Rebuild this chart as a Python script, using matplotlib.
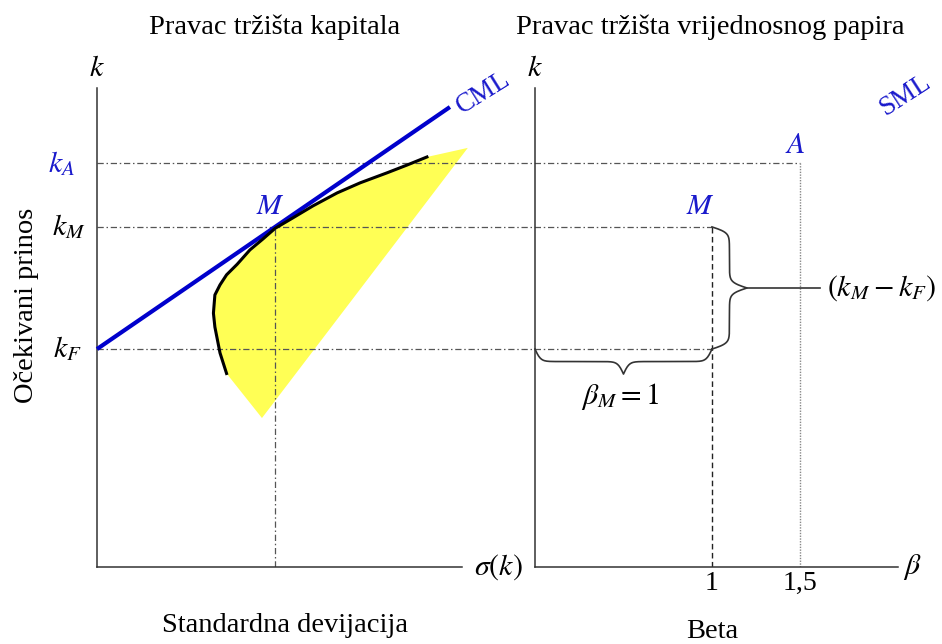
import numpy as np
import matplotlib
matplotlib.use('Agg')
import matplotlib.pyplot as plt

plt.rcParams['font.family'] = ['Liberation Serif', 'DejaVu Serif']
plt.rcParams['mathtext.fontset'] = 'stix'

# razine prinosa (k) i tocke na grafu
k_f, k_m, k_a = 4.55, 7.10, 8.43
sigma_m = 4.88
cml_end_sigma = 9.67

# efikasna granica (crna krivulja)
frontier_sigma = [3.55, 3.37, 3.23, 3.19, 3.23, 3.37, 3.55, 3.84, 4.19, 4.55, 4.88,
                  5.37, 5.92, 6.58, 7.21, 7.95, 8.49, 9.04]
frontier_k = [4.04, 4.47, 5.01, 5.30, 5.68, 5.89, 6.10, 6.32, 6.62, 6.85, 7.07,
              7.29, 7.54, 7.81, 8.02, 8.23, 8.39, 8.56]

# ostali vrhovi zutog podrucja
region_sigma = [10.16, 4.52]
region_k = [8.75, 3.11]

# beta strana
beta_m, beta_a = 1.0, 1.5
beta_ticks = [1.0, 1.5]
beta_tick_labels = ['1', '1,5']

blue = '#1a1acc'
gray = '#555555'
axis_col = '#333333'

fig = plt.figure(figsize=(9.42, 6.44), dpi=100)
ax1 = fig.add_axes([97 / 942, 77 / 644, 423 / 942, 479 / 644])
ax2 = fig.add_axes([535 / 942, 77 / 644, 407 / 942, 479 / 644])

ax1.set_xlim(0, 11.59)
ax1.set_ylim(0, 10)
ax2.set_xlim(0, 2.30)
ax2.set_ylim(0, 10)

for ax, xend in [(ax1, 10), (ax2, 2.05)]:
    ax.set_facecolor('none')
    ax.spines['top'].set_visible(False)
    ax.spines['right'].set_visible(False)
    for s in ['left', 'bottom']:
        ax.spines[s].set_color(axis_col)
        ax.spines[s].set_linewidth(1.1)
    ax.spines['bottom'].set_bounds(0, xend)
    ax.set_xticks([])
    ax.set_yticks([])

dashdot = (0, (5, 2.2, 1.2, 2.2))
fs = 21.5      # matematicke oznake
tfs = 20.5     # obican tekst

# ---- lijevi graf: pravac trzista kapitala
poly_s = frontier_sigma + region_sigma
poly_k = frontier_k + region_k
ax1.fill(poly_s, poly_k, color='#ffff55', lw=0, zorder=1, clip_on=False)


def x_on_ax1(beta):
    disp = ax2.transData.transform((beta, 0))
    return ax1.transData.inverted().transform(disp)[0]


# horizontalne crte preko oba grafa
ax1.plot([0, x_on_ax1(beta_a)], [k_a, k_a], color=gray, lw=0.9, ls=dashdot, clip_on=False, zorder=2)
ax1.plot([0, x_on_ax1(beta_m)], [k_m, k_m], color=gray, lw=0.9, ls=dashdot, clip_on=False, zorder=2)
ax1.plot([0, x_on_ax1(beta_m)], [k_f, k_f], color=gray, lw=0.9, ls=dashdot, clip_on=False, zorder=2)
ax1.plot([sigma_m, sigma_m], [0, k_m], color=gray, lw=0.9, ls=dashdot, zorder=2)

slope = (k_m - k_f) / sigma_m
ax1.plot([0, cml_end_sigma], [k_f, k_f + slope * cml_end_sigma], color='#0000cc', lw=3, zorder=3,
         solid_capstyle='butt', clip_on=False)
ax1.plot(frontier_sigma, frontier_k, color='black', lw=2.2, zorder=4, solid_joinstyle='round')

ax1.annotate('$k_A$', xy=(0, k_a), xytext=(-35, 0), textcoords='offset pixels', ha='center', va='center',
             fontsize=fs, color=blue)
ax1.annotate('$k_M$', xy=(0, k_m), xytext=(-28, 0), textcoords='offset pixels', ha='center', va='center',
             fontsize=fs)
ax1.annotate('$k_F$', xy=(0, k_f), xytext=(-30, 0), textcoords='offset pixels', ha='center', va='center',
             fontsize=fs)
ax1.annotate('$M$', xy=(sigma_m, k_m), xytext=(-5, 20), textcoords='offset pixels', ha='center', va='center',
             fontsize=fs, color=blue)
ax1.annotate('CML', xy=(cml_end_sigma, k_f + slope * cml_end_sigma), xytext=(33, 14), textcoords='offset pixels',
             ha='center', va='center', fontsize=19.5, color=blue, rotation=32)
ax1.annotate('$k$', xy=(0, 10), xytext=(0, 19), textcoords='offset pixels', ha='center', va='center', fontsize=fs)
ax1.annotate(r'$\sigma(k)$', xy=(10, 0), xytext=(36, 0), textcoords='offset pixels', ha='center', va='center',
             fontsize=fs, annotation_clip=False)
fig.text(285 / 942, 1 - 625 / 644, 'Standardna devijacija', ha='center', va='center', fontsize=tfs)
fig.text(27 / 942, 1 - 305 / 644, 'Očekivani prinos', ha='center', va='center', fontsize=tfs, rotation=90)
fig.text(275 / 942, 1 - 27 / 644, 'Pravac tržišta kapitala', ha='center', va='center', fontsize=tfs)

# ---- desni graf: pravac trzista vrijednosnog papira
ax2.plot([beta_m, beta_m], [0, k_m], color='#222222', lw=1, ls=(0, (4, 2.5)), zorder=2)
ax2.plot([beta_a, beta_a], [0, k_a], color='#888888', lw=1, ls=(0, (1, 1)), zorder=2)


def draw_brace(ax, p0, p1, width, side=1, b=0.35):
    d0 = ax.transData.transform(p0)
    d1 = ax.transData.transform(p1)
    vec = d1 - d0
    length = np.hypot(*vec)
    u = vec / length
    n = np.array([-u[1], u[0]]) * side
    s = np.linspace(0, length / 2, 120)
    half = 1 / (1 + np.exp(-b * (s - s[0]))) + 1 / (1 + np.exp(-b * (s - s[-1])))
    offs = np.concatenate([half, half[-2::-1]]) - 0.5
    pos = np.concatenate([s, length - s[-2::-1]])
    pts = d0 + np.outer(pos, u) + np.outer(offs * width, n)
    data = ax.transData.inverted().transform(pts)
    ax.plot(data[:, 0], data[:, 1], color=axis_col, lw=1.2, clip_on=False, zorder=3)
    tip = d0 + u * length / 2 + n * width
    return ax.transData.inverted().transform(tip)


tip_v = draw_brace(ax2, (beta_m, k_m), (beta_m, k_f), 35, side=1)
ax2.plot([tip_v[0], 1.61], [tip_v[1], tip_v[1]], color=axis_col, lw=1.2, zorder=3)
ax2.annotate('$(k_M - k_F)$', xy=(1.61, tip_v[1]), xytext=(7, 0), textcoords='offset pixels',
             ha='left', va='center', fontsize=fs)

tip_h = draw_brace(ax2, (0, k_f), (beta_m, k_f), 25, side=-1)
ax2.annotate(r'$\beta_M = 1$', xy=tip_h, xytext=(-3, -22), textcoords='offset pixels',
             ha='center', va='center', fontsize=fs)

for b_val, lab in zip(beta_ticks, beta_tick_labels):
    ax2.annotate(lab, xy=(b_val, 0), xytext=(0, -16), textcoords='offset pixels', ha='center', va='center',
                 fontsize=20)

ax2.annotate('$M$', xy=(beta_m, k_m), xytext=(-12, 20), textcoords='offset pixels', ha='center', va='center',
             fontsize=fs, color=blue)
ax2.annotate('$A$', xy=(beta_a, k_a), xytext=(-5, 17), textcoords='offset pixels', ha='center', va='center',
             fontsize=fs, color=blue)
ax2.annotate('SML', xy=(beta_a, k_a), xytext=(105, 68), textcoords='offset pixels', ha='center', va='center',
             fontsize=19.5, color=blue, rotation=33, annotation_clip=False)
ax2.annotate('$k$', xy=(0, 10), xytext=(0, 19), textcoords='offset pixels', ha='center', va='center', fontsize=fs)
ax2.annotate(r'$\beta$', xy=(2.05, 0), xytext=(15, 0), textcoords='offset pixels', ha='center', va='center',
             fontsize=fs)
fig.text(712 / 942, 1 - 631 / 644, 'Beta', ha='center', va='center', fontsize=tfs)
fig.text(710 / 942, 1 - 27 / 644, 'Pravac tržišta vrijednosnog papira', ha='center', va='center', fontsize=tfs)

plt.savefig('out.png', dpi=100)
